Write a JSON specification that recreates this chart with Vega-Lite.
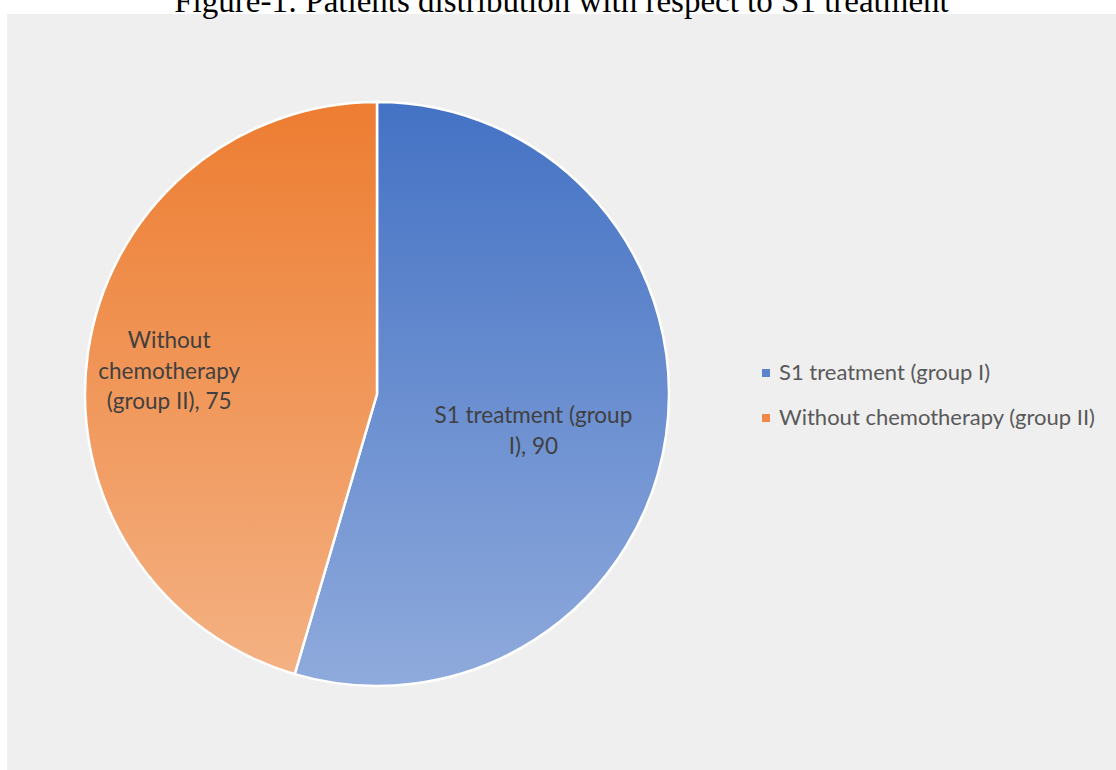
{
  "$schema": "https://vega.github.io/schema/vega-lite/v6.json",
  "padding": {"left": 7, "top": -14, "right": 0, "bottom": 0},
  "background": "white",
  "title": {
    "text": "Figure-1: Patients distribution with respect to S1 treatment",
    "font": "Liberation Serif",
    "fontSize": 33,
    "fontWeight": "normal",
    "color": "black",
    "anchor": "middle",
    "baseline": "alphabetic",
    "offset": -31
  },
  "spacing": 0,
  "config": {
    "view": {"fill": "#EFEFEF", "stroke": null},
    "concat": {"spacing": 0}
  },
  "datasets": {
    "pie": [
      {"group": "S1 treatment (group I)", "count": 90, "label": "S1 treatment (group\nI), 90"},
      {"group": "Without chemotherapy (group II)", "count": 75, "label": "Without\nchemotherapy\n(group II), 75"}
    ]
  },
  "hconcat": [
    {
      "width": 740,
      "height": 760,
      "view": {"fill": "#EFEFEF", "stroke": null},
      "data": {"name": "pie"},
      "layer": [
        {
          "mark": {"type": "arc", "outerRadius": 292},
          "encoding": {
            "theta": {"field": "count", "type": "quantitative", "stack": true},
            "color": {
              "field": "group",
              "type": "nominal",
              "scale": {
                "domain": ["S1 treatment (group I)", "Without chemotherapy (group II)"],
                "range": ["#5B83CC", "#EF8A48"]
              },
              "legend": {
                "orient": "none",
                "legendX": 748,
                "legendY": 348,
                "title": null,
                "symbolType": "square",
                "symbolSize": 64,
                "symbolStrokeWidth": 0,
                "labelFont": "Lato",
                "labelFontSize": 22,
                "labelColor": "#595959",
                "labelOffset": 2,
                "rowPadding": 23,
                "labelLimit": 400
              }
            }
          }
        },
        {
          "mark": {"type": "arc", "outerRadius": 292, "stroke": "white", "strokeWidth": 2.5},
          "encoding": {
            "theta": {"field": "count", "type": "quantitative", "stack": true},
            "order": {"field": "group"},
            "fill": {
              "condition": {
                "test": "datum.group === 'S1 treatment (group I)'",
                "value": {
                  "gradient": "linear", "x1": 0, "y1": 0, "x2": 0, "y2": 1,
                  "stops": [{"offset": 0, "color": "#4472C4"}, {"offset": 1, "color": "#8FAADC"}]
                }
              },
              "value": {
                "gradient": "linear", "x1": 0, "y1": 0, "x2": 0, "y2": 1,
                "stops": [{"offset": 0, "color": "#ED7D31"}, {"offset": 1, "color": "#F4B183"}]
              }
            }
          }
        },
        {
          "mark": {"type": "text", "font": "Lato", "fontSize": 22.5, "color": "#404040", "lineBreak": "\n", "lineHeight": 31, "dy": 0},
          "encoding": {
            "theta": {"field": "count", "type": "quantitative", "stack": true},
            "order": {"field": "group"},
            "radius": {"value": 158},
            "text": {"condition": {"test": "datum.group === 'S1 treatment (group I)'", "field": "label"}, "value": ""}
          }
        },
        {
          "mark": {"type": "text", "font": "Lato", "fontSize": 22.5, "color": "#404040", "lineBreak": "\n", "lineHeight": 30.5, "dy": -23},
          "encoding": {
            "theta": {"field": "count", "type": "quantitative", "stack": true},
            "order": {"field": "group"},
            "radius": {"value": 210},
            "text": {"condition": {"test": "datum.group !== 'S1 treatment (group I)'", "field": "label"}, "value": ""}
          }
        }
      ]
    },
    {
      "width": 369,
      "height": 760,
      "view": {"fill": "#EFEFEF", "stroke": null},
      "data": {"values": []},
      "mark": "point",
      "encoding": {}
    }
  ]
}
